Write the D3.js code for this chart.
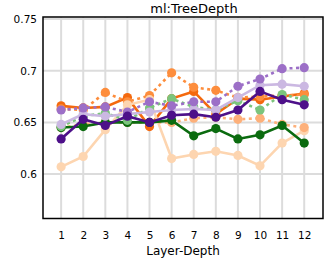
<!DOCTYPE html>
<meta charset="utf-8">
<script src="https://d3js.org/d3.v7.min.js"></script>
<style>
  body { margin: 0; background: #fff; }
  text { font-family: "DejaVu Sans", sans-serif; }
</style>
<div id="chart"></div>
<script>

// layer depths and tick labels
var depths = [1, 2, 3, 4, 5, 6, 7, 8, 9, 10, 11, 12];
var yTicks = [0.6, 0.65, 0.7, 0.75];

// series values
var orangeSolid  = [0.666, 0.664, 0.665, 0.674, 0.646, 0.673, 0.680, 0.658, 0.673, 0.672, 0.675, 0.678];
var orangeDotted = [0.663, 0.662, 0.679, 0.670, 0.676, 0.698, 0.684, 0.681, 0.674, 0.675, 0.676, 0.677];
var peachSolid   = [0.607, 0.617, 0.643, 0.667, 0.672, 0.615, 0.619, 0.622, 0.618, 0.608, 0.630, 0.642];
var peachDotted  = [0.645, 0.648, 0.650, 0.650, 0.650, 0.650, 0.654, 0.655, 0.653, 0.654, 0.648, 0.645];
var greenSolid   = [0.645, 0.646, 0.650, 0.650, 0.650, 0.652, 0.637, 0.644, 0.634, 0.638, 0.647, 0.630];
var greenDotted  = [0.646, 0.656, 0.659, 0.652, 0.664, 0.673, 0.665, 0.662, 0.671, 0.662, 0.677, 0.672];
var purpleSolid  = [0.634, 0.653, 0.647, 0.656, 0.650, 0.657, 0.658, 0.655, 0.662, 0.680, 0.672, 0.667];
var purpleDotted = [0.662, 0.664, 0.665, 0.660, 0.670, 0.666, 0.670, 0.670, 0.685, 0.692, 0.702, 0.703];
var lavender     = [0.648, 0.658, 0.656, 0.658, 0.660, 0.662, 0.663, 0.662, 0.674, 0.686, 0.687, 0.685];

var series = [
  {values: orangeSolid,  color: "#f4690e", dotted: false},
  {values: orangeDotted, color: "#fd8d3c", dotted: true},
  {values: peachSolid,   color: "#fdd5b0", dotted: false},
  {values: peachDotted,  color: "#fdb07a", dotted: true},
  {values: greenSolid,   color: "#0b6b0f", dotted: false},
  {values: greenDotted,  color: "#7bc47c", dotted: true},
  {values: lavender,     color: "#cbb8e2", dotted: false},
  {values: purpleDotted, color: "#9c6fc7", dotted: true},
  {values: purpleSolid,  color: "#4d1089", dotted: false}
];

var W = 324, H = 259;
var plotL = 43, plotR = 323, plotT = 17, plotB = 218.5;

var svg = d3.select("#chart")
  .append("svg")
    .attr("width", W)
    .attr("height", H);

var x = d3.scaleLinear()
  .domain([0.18, 12.85])
  .range([plotL, plotR]);

var y = d3.scaleLinear()
  .domain([0.557, 0.752])
  .range([plotB, plotT]);

// grid
svg.append("g")
  .selectAll("line")
  .data(depths)
  .enter().append("line")
    .attr("x1", function(d) { return x(d); })
    .attr("x2", function(d) { return x(d); })
    .attr("y1", plotT)
    .attr("y2", plotB)
    .attr("stroke", "#dcdcdc")
    .attr("stroke-width", 2);

svg.append("g")
  .selectAll("line")
  .data(yTicks)
  .enter().append("line")
    .attr("x1", plotL)
    .attr("x2", plotR)
    .attr("y1", function(d) { return y(d); })
    .attr("y2", function(d) { return y(d); })
    .attr("stroke", "#dcdcdc")
    .attr("stroke-width", 2);

// lines and dots
var line = d3.line()
  .x(function(d, i) { return x(depths[i]); })
  .y(function(d) { return y(d); });

series.forEach(function(s) {
  svg.append("path")
    .attr("d", line(s.values))
    .attr("fill", "none")
    .attr("stroke", s.color)
    .attr("stroke-width", 2.6)
    .attr("stroke-dasharray", s.dotted ? "3,3.5" : null);

  svg.append("g")
    .selectAll("circle")
    .data(s.values)
    .enter().append("circle")
      .attr("cx", function(d, i) { return x(depths[i]); })
      .attr("cy", function(d) { return y(d); })
      .attr("r", 4.6)
      .attr("fill", s.color);
});

// frame
svg.append("rect")
  .attr("x", plotL)
  .attr("y", plotT)
  .attr("width", plotR - plotL)
  .attr("height", plotB - plotT)
  .attr("fill", "none")
  .attr("stroke", "#000")
  .attr("stroke-width", 1.5);

// axes (labels only)
var xAxis = svg.append("g")
  .attr("transform", "translate(0," + plotB + ")")
  .call(d3.axisBottom(x).tickValues(depths).tickSize(0).tickPadding(13));
xAxis.select(".domain").remove();
xAxis.selectAll("text").attr("font-size", 10.5).attr("fill", "#000")
  .style("font-family", "DejaVu Sans, sans-serif");

var yAxis = svg.append("g")
  .attr("transform", "translate(" + plotL + ",0)")
  .call(d3.axisLeft(y).tickValues(yTicks).tickFormat(d3.format("")).tickSize(0).tickPadding(6));
yAxis.select(".domain").remove();
yAxis.selectAll("text").attr("font-size", 10.5).attr("fill", "#000")
  .style("font-family", "DejaVu Sans, sans-serif");

// titles
svg.append("text")
  .attr("x", 194)
  .attr("y", 13)
  .attr("text-anchor", "middle")
  .attr("font-size", 13)
  .text("ml:TreeDepth");

svg.append("text")
  .attr("x", 183)
  .attr("y", 255)
  .attr("text-anchor", "middle")
  .attr("font-size", 12)
  .text("Layer-Depth");

</script>
